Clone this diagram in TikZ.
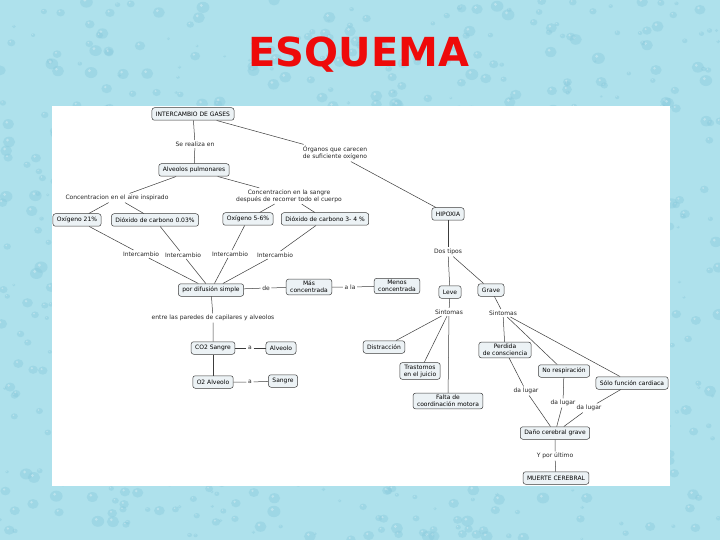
\documentclass[tikz,border=0pt]{standalone}
\usepackage{fontspec}
\setmainfont{DejaVu Sans}
\definecolor{bgblue}{RGB}{174,225,236}
\definecolor{dropc}{RGB}{140,203,221}
\definecolor{boxfill}{RGB}{236,242,245}
\definecolor{linec}{RGB}{60,60,60}
\definecolor{titlered}{RGB}{238,10,10}
\tikzset{
  box/.style={draw=linec, fill=boxfill, rounded corners=2.5pt, inner xsep=4pt, inner ysep=2pt,
    minimum height=12.5pt, align=center, font=\fontsize{6}{7}\selectfont, line width=0.5pt},
  lbl/.style={inner sep=1.5pt, align=center, font=\fontsize{6}{7}\selectfont, text=black!85},
  conn/.style={draw=linec, line width=0.5pt}
}
\begin{document}
\begin{tikzpicture}[x=1pt,y=-1pt]
\useasboundingbox (0,0) rectangle (720,540);
\fill[bgblue] (0,0) rectangle (720,540);
\pgfmathsetseed{7}
\foreach \i in {1,...,900}{
  \pgfmathsetmacro{\px}{rnd*720}
  \pgfmathsetmacro{\py}{rnd*540}
  \pgfmathsetmacro{\rr}{1.2+rnd*4.5}
  \fill[dropc, opacity=0.45] (\px,\py) ellipse ({\rr*1.15} and \rr);
  \fill[white, opacity=0.3] (\px-\rr*0.3,\py-\rr*0.35) circle (\rr*0.28);
}
\fill[white] (52,106) rectangle (670,486);
\node[font=\fontsize{40}{40}\selectfont\bfseries, text=titlered] (title) at (359,55) {ESQUEMA};

% left part
\node[box] (ig) at (193,114) {INTERCAMBIO DE GASES};
\node[lbl] (sre) at (195,144) {Se realiza en};
\node[box] (alv) at (194,170) {Alveolos pulmonares};
\node[lbl] (org) at (335,153) {Órganos que carecen\\de suficiente oxígeno};
\node[lbl] (cai) at (117,198) {Concentracion en el aire inspirado};
\node[lbl] (cs) at (289,196) {Concentracion en la sangre\\después de recorrer todo el cuerpo};
\node[box] (o21) at (77,220) {Oxígeno 21\%};
\node[box] (d003) at (155,220) {Dióxido de carbono 0.03\%};
\node[box] (o56) at (248,219) {Oxígeno 5-6\%};
\node[box] (d34) at (325,219) {Dióxido de carbono 3- 4 \%};
\node[box] (hip) at (448,214) {HIPOXIA};
\node[lbl] (i1) at (141,254) {Intercambio};
\node[lbl] (i2) at (183,255) {Intercambio};
\node[lbl] (i3) at (230,254) {Intercambio};
\node[lbl] (i4) at (275,255) {Intercambio};
\node[box] (pds) at (211,290) {por difusión simple};
\node[lbl] (de) at (266,288) {de};
\node[box] (mas) at (309,287) {Más\\concentrada};
\node[lbl] (ala) at (350,287) {a la};
\node[box] (men) at (397,286) {Menos\\concentrada};
\node[lbl] (ent) at (213,318) {entre las paredes de capilares y alveolos};
\node[box] (co2) at (213,348) {CO2 Sangre};
\node[lbl] (a1) at (250,348) {a};
\node[box] (alo) at (281,348) {Alveolo};
\node[box] (o2a) at (213,382) {O2 Alveolo};
\node[lbl] (a2) at (250,382) {a};
\node[box] (san) at (283,381) {Sangre};

% right part
\node[lbl] (dt) at (448,252) {Dos tipos};
\node[box] (lev) at (450,292) {Leve};
\node[box] (gra) at (491,290) {Grave};
\node[lbl] (s1) at (449,312) {Sintomas};
\node[lbl] (s2) at (503,313) {Sintomas};
\node[box] (dis) at (384,347) {Distracción};
\node[box] (tra) at (420,371) {Trastornos\\en el juicio};
\node[box] (fal) at (448,401) {Falta de\\coordinación motora};
\node[box] (per) at (505,350) {Perdida\\de consciencia};
\node[box] (nor) at (564,371) {No respiración};
\node[box] (sol) at (632,383) {Sólo función cardiaca};
\node[lbl] (dl1) at (526,391) {da lugar};
\node[lbl] (dl2) at (563,403) {da lugar};
\node[lbl] (dl3) at (589,408) {da lugar};
\node[box] (dan) at (555,433) {Daño cerebral grave};
\node[lbl] (ypu) at (555,456) {Y por último};
\node[box] (mue) at (556,478) {MUERTE CEREBRAL};

% connectors
\draw[conn] (ig) -- (sre) -- (alv);
\draw[conn] (ig) -- (org) -- (hip);
\draw[conn] (alv) -- (cai);
\draw[conn] (cai) -- (o21);
\draw[conn] (cai) -- (d003);
\draw[conn] (alv) -- (cs);
\draw[conn] (cs) -- (o56);
\draw[conn] (cs) -- (d34);
\draw[conn] (o21) -- (i1) -- (pds);
\draw[conn] (d003) -- (i2) -- (pds);
\draw[conn] (o56) -- (i3) -- (pds);
\draw[conn] (d34) -- (i4) -- (pds);
\draw[conn] (pds) -- (de) -- (mas);
\draw[conn] (mas) -- (ala) -- (men);
\draw[conn] (pds) -- (ent) -- (co2);
\draw[conn] (co2) -- (a1) -- (alo);
\draw[conn] (co2) -- (o2a);
\draw[conn] (o2a) -- (a2) -- (san);
\draw[conn] (hip) -- (dt);
\draw[conn] (dt) -- (lev);
\draw[conn] (dt) -- (gra);
\draw[conn] (lev) -- (s1);
\draw[conn] (s1) -- (dis);
\draw[conn] (s1) -- (tra);
\draw[conn] (s1) -- (fal);
\draw[conn] (gra) -- (s2);
\draw[conn] (s2) -- (per);
\draw[conn] (s2) -- (nor);
\draw[conn] (s2) -- (sol);
\draw[conn] (per) -- (dl1) -- (dan);
\draw[conn] (nor) -- (dl2) -- (dan);
\draw[conn] (sol) -- (dl3) -- (dan);
\draw[conn] (dan) -- (ypu) -- (mue);
\end{tikzpicture}
\end{document}
